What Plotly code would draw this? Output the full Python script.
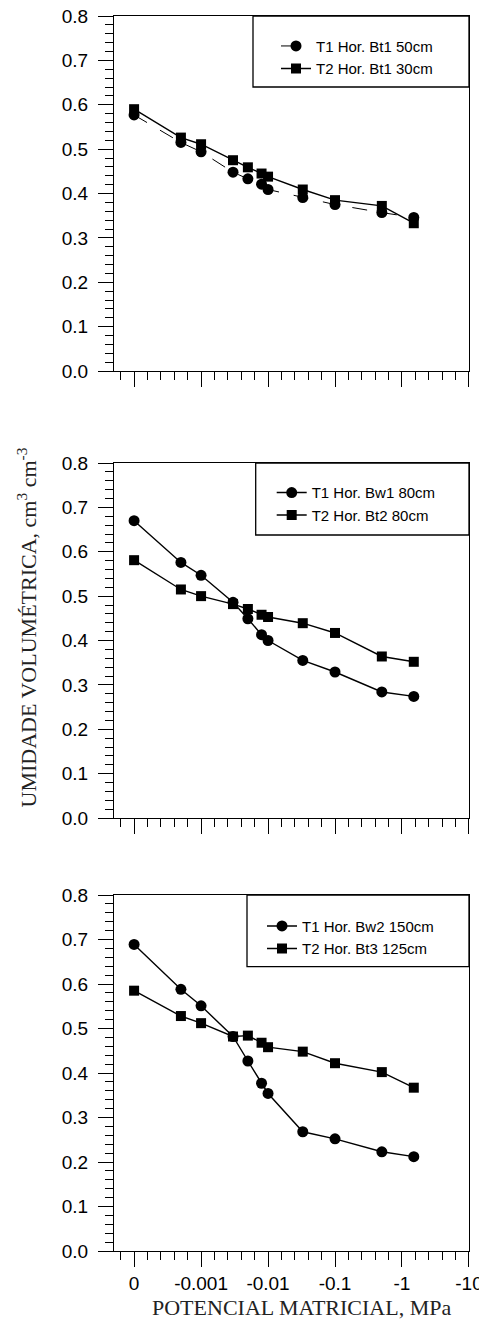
import math
import plotly.graph_objects as go

# ---- data ----
potential = [0, -0.0005, -0.001, -0.003, -0.005, -0.008, -0.01, -0.033, -0.1, -0.5, -1.5]

top_t1 = [0.577, 0.515, 0.494, 0.448, 0.433, 0.421, 0.409, 0.391, 0.375, 0.357, 0.346]
top_t2 = [0.590, 0.526, 0.511, 0.475, 0.459, 0.445, 0.438, 0.409, 0.385, 0.372, 0.333]
mid_t1 = [0.670, 0.576, 0.547, 0.486, 0.449, 0.413, 0.400, 0.355, 0.329, 0.284, 0.274]
mid_t2 = [0.581, 0.515, 0.500, 0.482, 0.471, 0.458, 0.453, 0.439, 0.417, 0.364, 0.352]
bot_t1 = [0.689, 0.588, 0.551, 0.482, 0.427, 0.377, 0.354, 0.268, 0.252, 0.223, 0.212]
bot_t2 = [0.585, 0.528, 0.512, 0.482, 0.484, 0.468, 0.458, 0.448, 0.422, 0.402, 0.367]

names = [
    ("T1 Hor. Bt1 50cm", "T2 Hor. Bt1 30cm"),
    ("T1 Hor. Bw1 80cm", "T2 Hor. Bt2 80cm"),
    ("T1 Hor. Bw2 150cm", "T2 Hor. Bt3 125cm"),
]

x_tick_vals = [-4, -3, -2, -1, 0, 1]
x_tick_text = ["0", "-0.001", "-0.01", "-0.1", "-1", "-10"]
y_tick_vals = [0, 0.1, 0.2, 0.3, 0.4, 0.5, 0.6, 0.7, 0.8]

# zero potential is drawn at the "0" position of the log-decade axis
x_pos = [math.log10(-p) if p < 0 else -4 for p in potential]

# ---- layout geometry (pixels) ----
W, H = 479, 1324
L, R, T, B = 114, 10, 16, 73
plot_h = H - T - B
panels_px = [(16, 371), (463, 818), (895, 1251)]  # top, bottom pixel of each panel


def py(ypx):
    return (H - B - ypx) / plot_h


def px(xpx):
    return (xpx - L) / (W - L - R)


fig = go.Figure()

series = [(top_t1, top_t2), (mid_t1, mid_t2), (bot_t1, bot_t2)]
line_w = 1.4
for i, (s1, s2) in enumerate(series):
    idx = "" if i == 0 else str(i + 1)
    leg = "legend" if i == 0 else f"legend{i + 1}"
    dash1 = "longdash" if i == 0 else "solid"
    w1 = 1.0 if i == 0 else line_w
    fig.add_trace(go.Scatter(
        x=x_pos, y=s1, mode="lines+markers", name=names[i][0],
        line=dict(color="black", width=w1, dash=dash1),
        marker=dict(symbol="circle", size=11, color="black"),
        xaxis="x" + idx, yaxis="y" + idx, legend=leg,
    ))
    fig.add_trace(go.Scatter(
        x=x_pos, y=s2, mode="lines+markers", name=names[i][1],
        line=dict(color="black", width=line_w),
        marker=dict(symbol="square", size=10, color="black"),
        xaxis="x" + idx, yaxis="y" + idx, legend=leg,
    ))

tick_font = dict(family="Liberation Sans, Arial", size=19, color="black")
layout = dict(
    width=W, height=H, autosize=False,
    margin=dict(l=L, r=R, t=T, b=B, autoexpand=False),
    paper_bgcolor="white", plot_bgcolor="white",
    showlegend=True,
)

legend_boxes = [  # (left px, text start px, first row centre px, box bottom px)
    (253, 320, 41.7, 87),
    (255.7, 315.7, 488.3, 535),
    (247, 306, 921.7, 966.7),
]
shapes = []
for i, (top_px, bot_px) in enumerate(panels_px):
    idx = "" if i == 0 else str(i + 1)
    show_labels = (i == 2)
    layout["xaxis" + idx] = dict(
        domain=[0, 1], anchor="y" + idx, range=[-4.3, 1.0005],
        tickmode="array", tickvals=x_tick_vals, ticktext=x_tick_text,
        showticklabels=show_labels, ticklabeloverflow="allow", automargin=False,
        ticks="outside", ticklen=15, tickwidth=1.3, tickcolor="black",
        minor=dict(dtick=0.2, tick0=0, ticks="outside", ticklen=8, tickwidth=1.3, tickcolor="black"),
        showline=True, linecolor="black", linewidth=1.3, mirror=True,
        showgrid=False, zeroline=False, tickfont=tick_font,
    )
    layout["yaxis" + idx] = dict(
        domain=[py(bot_px), py(top_px)], anchor="x" + idx, range=[0, 0.8],
        tickmode="array", tickvals=y_tick_vals, tickformat=".1f", automargin=False,
        ticks="outside", ticklen=15, tickwidth=1.3, tickcolor="black",
        minor=dict(dtick=0.02, tick0=0, ticks="outside", ticklen=8, tickwidth=1.3, tickcolor="black"),
        showline=True, linecolor="black", linewidth=1.3, mirror=True,
        showgrid=False, zeroline=False, tickfont=tick_font, ticklabelstandoff=6,
    )
    lb_left, text_start, row1, lb_bot = legend_boxes[i]
    shapes.append(dict(
        type="rect", xref="paper", yref="paper",
        x0=px(lb_left), x1=1, y0=py(lb_bot), y1=py(top_px),
        line=dict(color="black", width=1.3), fillcolor="white", layer="below",
    ))
    leg = "legend" if i == 0 else f"legend{i + 1}"
    layout[leg] = dict(
        x=px(text_start - 44), xanchor="left",
        y=py(row1 - 12), yanchor="top",
        bgcolor="rgba(0,0,0,0)", borderwidth=0,
        font=dict(family="Liberation Sans, Arial", size=15, color="black"),
        tracegroupgap=0, itemwidth=30,
    )

layout["shapes"] = shapes
layout["annotations"] = [
    dict(text="UMIDADE VOLUMÉTRICA, cm<sup>3</sup> cm<sup>-3</sup>", textangle=-90,
         xref="paper", yref="paper", x=px(26), y=py(627.5),
         xanchor="center", yanchor="middle", showarrow=False,
         font=dict(family="Liberation Serif, Times New Roman", size=22, color="#222")),
    dict(text="POTENCIAL MATRICIAL, MPa",
         xref="paper", yref="paper", x=px(301), y=py(1307),
         xanchor="center", yanchor="middle", showarrow=False,
         font=dict(family="Liberation Serif, Times New Roman", size=22, color="#222")),
]
fig.update_layout(**layout)
fig.write_html("out.html")
